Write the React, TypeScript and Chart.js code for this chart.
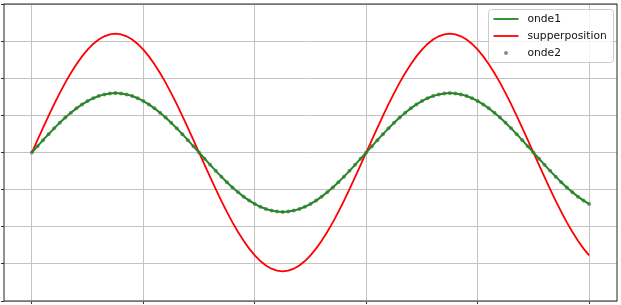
import { useEffect, useRef } from "react";
import { Chart, registerables } from "chart.js";

Chart.register(...registerables);

const xs = [
  0, 0.05, 0.1, 0.15, 0.2, 0.25, 0.3, 0.35, 0.4, 0.45,
  0.5, 0.55, 0.6, 0.65, 0.7, 0.75, 0.8, 0.85, 0.9, 0.95,
  1, 1.05, 1.1, 1.15, 1.2, 1.25, 1.3, 1.35, 1.4, 1.45,
  1.5, 1.55, 1.6, 1.65, 1.7, 1.75, 1.8, 1.85, 1.9, 1.95,
  2, 2.05, 2.1, 2.15, 2.2, 2.25, 2.3, 2.35, 2.4, 2.45,
  2.5, 2.55, 2.6, 2.65, 2.7, 2.75, 2.8, 2.85, 2.9, 2.95,
  3, 3.05, 3.1, 3.15, 3.2, 3.25, 3.3, 3.35, 3.4, 3.45,
  3.5, 3.55, 3.6, 3.65, 3.7, 3.75, 3.8, 3.85, 3.9, 3.95,
  4, 4.05, 4.1, 4.15, 4.2, 4.25, 4.3, 4.35, 4.4, 4.45,
  4.5, 4.55, 4.6, 4.65, 4.7, 4.75, 4.8, 4.85, 4.9, 4.95,
  5,
];

const onde1 = [
  0, 0.167, 0.333, 0.494, 0.651, 0.8, 0.94, 1.071, 1.189, 1.294, 1.386, 1.462, 1.522, 1.565, 1.591, 1.6,
  1.591, 1.565, 1.522, 1.462, 1.386, 1.294, 1.189, 1.071, 0.94, 0.8, 0.651, 0.494, 0.333, 0.167, 0,
  -0.167, -0.333, -0.494, -0.651, -0.8, -0.94, -1.071, -1.189, -1.294, -1.386, -1.462, -1.522, -1.565, -1.591, -1.6,
  -1.591, -1.565, -1.522, -1.462, -1.386, -1.294, -1.189, -1.071, -0.94, -0.8, -0.651, -0.494, -0.333, -0.167, 0,
  0.167, 0.333, 0.494, 0.651, 0.8, 0.94, 1.071, 1.189, 1.294, 1.386, 1.462, 1.522, 1.565, 1.591, 1.6,
  1.591, 1.565, 1.522, 1.462, 1.386, 1.294, 1.189, 1.071, 0.94, 0.8, 0.651, 0.494, 0.333, 0.167, 0,
  -0.167, -0.333, -0.494, -0.651, -0.8, -0.94, -1.071, -1.189, -1.294, -1.386,
];

const onde2 = [
  0, 0.167, 0.333, 0.494, 0.651, 0.8, 0.94, 1.071, 1.189, 1.294, 1.386, 1.462, 1.522, 1.565, 1.591, 1.6,
  1.591, 1.565, 1.522, 1.462, 1.386, 1.294, 1.189, 1.071, 0.94, 0.8, 0.651, 0.494, 0.333, 0.167, 0,
  -0.167, -0.333, -0.494, -0.651, -0.8, -0.94, -1.071, -1.189, -1.294, -1.386, -1.462, -1.522, -1.565, -1.591, -1.6,
  -1.591, -1.565, -1.522, -1.462, -1.386, -1.294, -1.189, -1.071, -0.94, -0.8, -0.651, -0.494, -0.333, -0.167, 0,
  0.167, 0.333, 0.494, 0.651, 0.8, 0.94, 1.071, 1.189, 1.294, 1.386, 1.462, 1.522, 1.565, 1.591, 1.6,
  1.591, 1.565, 1.522, 1.462, 1.386, 1.294, 1.189, 1.071, 0.94, 0.8, 0.651, 0.494, 0.333, 0.167, 0,
  -0.167, -0.333, -0.494, -0.651, -0.8, -0.94, -1.071, -1.189, -1.294, -1.386,
];

const supperposition = [
  0, 0.334, 0.665, 0.989, 1.302, 1.6, 1.881, 2.141, 2.378, 2.589, 2.771, 2.923, 3.043, 3.13, 3.182, 3.2,
  3.182, 3.13, 3.043, 2.923, 2.771, 2.589, 2.378, 2.141, 1.881, 1.6, 1.302, 0.989, 0.665, 0.334, 0,
  -0.334, -0.665, -0.989, -1.302, -1.6, -1.881, -2.141, -2.378, -2.589, -2.771, -2.923, -3.043, -3.13, -3.182, -3.2,
  -3.182, -3.13, -3.043, -2.923, -2.771, -2.589, -2.378, -2.141, -1.881, -1.6, -1.302, -0.989, -0.665, -0.334, 0,
  0.334, 0.665, 0.989, 1.302, 1.6, 1.881, 2.141, 2.378, 2.589, 2.771, 2.923, 3.043, 3.13, 3.182, 3.2,
  3.182, 3.13, 3.043, 2.923, 2.771, 2.589, 2.378, 2.141, 1.881, 1.6, 1.302, 0.989, 0.665, 0.334, 0,
  -0.334, -0.665, -0.989, -1.302, -1.6, -1.881, -2.141, -2.378, -2.589, -2.771,
];

const xTicks = [0, 1, 2, 3, 4, 5];
const yTicks = [-4, -3, -2, -1, 0, 1, 2, 3, 4];
const legendLabels = ["onde1", "supperposition", "onde2"];

const GREEN = "#1f8a1f";
const RED = "#ff0000";
const DOT = "rgba(100,100,100,0.75)";

const toPoints = (ys: number[]) => xs.map((x, i) => ({ x, y: ys[i] }));

const framePlugin = {
  id: "frameAndLegend",
  afterDraw(chart: any) {
    const { ctx, chartArea } = chart;
    const { left, right, top, bottom } = chartArea;
    ctx.save();
    ctx.strokeStyle = "#262626";
    ctx.lineWidth = 1;
    ctx.strokeRect(left, top, right - left, bottom - top);

    const bw = 125;
    const bh = 53;
    const bx = right - 4 - bw + 0.5;
    const by = top + 5.5;
    const r = 3;
    ctx.beginPath();
    ctx.moveTo(bx + r, by);
    ctx.lineTo(bx + bw - r, by);
    ctx.quadraticCurveTo(bx + bw, by, bx + bw, by + r);
    ctx.lineTo(bx + bw, by + bh - r);
    ctx.quadraticCurveTo(bx + bw, by + bh, bx + bw - r, by + bh);
    ctx.lineTo(bx + r, by + bh);
    ctx.quadraticCurveTo(bx, by + bh, bx, by + bh - r);
    ctx.lineTo(bx, by + r);
    ctx.quadraticCurveTo(bx, by, bx + r, by);
    ctx.closePath();
    ctx.fillStyle = "rgba(255,255,255,0.8)";
    ctx.fill();
    ctx.strokeStyle = "#cccccc";
    ctx.lineWidth = 1;
    ctx.stroke();

    const rowsY = [by + 9.5, by + 26.5, by + 43.5];
    const hx0 = bx + 5;
    const hx1 = bx + 30;
    const tx = bx + 39;
    ctx.font = "10.7px 'DejaVu Sans'";
    ctx.textBaseline = "middle";
    ctx.textAlign = "left";
    const colors = [GREEN, RED];
    for (let i = 0; i < legendLabels.length; i++) {
      const y = rowsY[i];
      if (i < 2) {
        ctx.strokeStyle = colors[i];
        ctx.lineWidth = 1.8;
        ctx.beginPath();
        ctx.moveTo(hx0, y);
        ctx.lineTo(hx1, y);
        ctx.stroke();
      } else {
        ctx.fillStyle = DOT;
        ctx.beginPath();
        ctx.arc((hx0 + hx1) / 2, y, 2, 0, Math.PI * 2);
        ctx.fill();
      }
      ctx.fillStyle = "#111111";
      ctx.fillText(legendLabels[i], tx, y);
    }
    ctx.restore();
  },
};

export default function App() {
  const canvasRef = useRef<HTMLCanvasElement | null>(null);

  useEffect(() => {
    if (!canvasRef.current) return;
    const chart = new Chart(canvasRef.current, {
      type: "line",
      data: {
        datasets: [
          {
            label: legendLabels[0],
            data: toPoints(onde1),
            borderColor: GREEN,
            backgroundColor: GREEN,
            borderWidth: 2,
            pointRadius: 0,
            tension: 0,
            order: 1,
          },
          {
            label: legendLabels[1],
            data: toPoints(supperposition),
            borderColor: RED,
            backgroundColor: RED,
            borderWidth: 1.8,
            pointRadius: 0,
            tension: 0,
            order: 2,
          },
          {
            label: legendLabels[2],
            data: toPoints(onde2),
            showLine: false,
            borderColor: "rgba(0,0,0,0)",
            backgroundColor: DOT,
            pointBackgroundColor: DOT,
            pointBorderWidth: 0,
            pointRadius: 2,
            order: 3,
          },
        ],
      },
      options: {
        animation: false,
        responsive: true,
        maintainAspectRatio: false,
        layout: { padding: { left: 0, right: 4, top: 2, bottom: 1 } },
        plugins: { legend: { display: false }, tooltip: { enabled: false } },
        scales: {
          x: {
            type: "linear",
            min: -0.25,
            max: 5.25,
            afterBuildTicks: (s: any) => {
              s.ticks = xTicks.map((v) => ({ value: v }));
            },
            ticks: { display: false },
            border: { display: false },
            grid: { color: "#c4c4c4", lineWidth: 1, tickLength: 3, tickColor: "#333333" },
          },
          y: {
            type: "linear",
            min: -4,
            max: 4,
            afterBuildTicks: (s: any) => {
              s.ticks = yTicks.map((v) => ({ value: v }));
            },
            ticks: { display: false },
            border: { display: false },
            grid: { color: "#c4c4c4", lineWidth: 1, tickLength: 3, tickColor: "#333333" },
          },
        },
      },
      plugins: [framePlugin],
    });
    return () => chart.destroy();
  }, []);

  return (
    <div style={{ position: "fixed", left: 0, top: 0, width: 621, height: 305, background: "#fff" }}>
      <canvas ref={canvasRef} />
    </div>
  );
}
